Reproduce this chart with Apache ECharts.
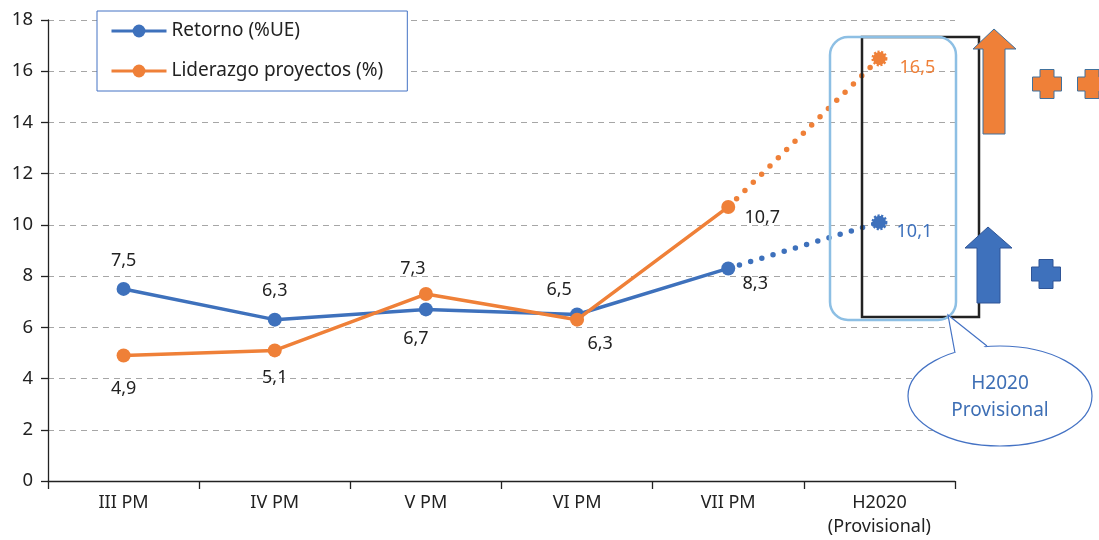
<!DOCTYPE html>
<html>
<head>
<meta charset="utf-8">
<script src="https://cdn.jsdelivr.net/npm/echarts@6/dist/echarts.min.js"></script>
<style>
  html, body { margin: 0; padding: 0; background: #fff; }
  #chart { width: 1099px; height: 540px; }
</style>
</head>
<body>
<div id="chart"></div>
<script>
// Programme categories and the two indicators (last point is provisional)
const categories = ['III PM', 'IV PM', 'V PM', 'VI PM', 'VII PM', 'H2020\n(Provisional)'];
const retorno = [7.5, 6.3, 6.7, 6.5, 8.3, 10.1];
const liderazgo = [4.9, 5.1, 7.3, 6.3, 10.7, 16.5];
const seriesNames = ['Retorno (%UE)', 'Liderazgo proyectos (%)'];
const provisionalIndex = 5;

const yMin = 0, yMax = 18, yStep = 2;

const BLUE = '#3e71bc';
const ORANGE = '#ef8038';
const FONT = '"Noto Sans", "Open Sans", sans-serif';

// label offsets (px from the marker centre)
const blueLabelOffsets = [[0, -28], [0, -29], [-10, 29], [-18, -25], [27, 15], [35, 10]];
const orangeLabelOffsets = [[0, 33], [0, 27], [-13, -25], [23, 24], [34, 11], [38, 9]];

const fmt = v => String(v).replace('.', ',');

function solidData(values, offsets) {
  return values.map((v, i) => {
    if (i >= provisionalIndex) return { value: null };
    return { value: v, label: { offset: offsets[i] } };
  });
}

function dottedData(values, offsets, color) {
  return values.map((v, i) => {
    if (i === provisionalIndex - 1) {
      return { value: v, symbol: 'none', label: { show: false } };
    }
    if (i === provisionalIndex) {
      return {
        value: v,
        symbol: 'circle',
        symbolSize: 13,
        itemStyle: { color: color, borderColor: color, borderWidth: 3, borderType: [2, 1.5] },
        label: { show: true, offset: offsets[i], color: color }
      };
    }
    return { value: null };
  });
}

const labelBase = {
  show: true,
  position: 'inside',
  color: '#222',
  fontFamily: FONT,
  fontSize: 18,
  textBorderWidth: 0,
  formatter: p => (p.value == null ? '' : fmt(p.value))
};

// cross ("plus") shape centred on (cx, cy)
function cross(cx, cy, half, arm) {
  return [
    [cx - arm, cy - half], [cx + arm, cy - half], [cx + arm, cy - arm],
    [cx + half, cy - arm], [cx + half, cy + arm], [cx + arm, cy + arm],
    [cx + arm, cy + half], [cx - arm, cy + half], [cx - arm, cy + arm],
    [cx - half, cy + arm], [cx - half, cy - arm], [cx - arm, cy - arm]
  ];
}

const chart = echarts.init(document.getElementById('chart'), null, { renderer: 'canvas' });

chart.setOption({
  animation: false,
  backgroundColor: '#fff',
  textStyle: { fontFamily: FONT },
  grid: { left: 48, right: 144, top: 20, bottom: 59, containLabel: false },
  legend: {
    data: seriesNames,
    orient: 'vertical',
    left: 97,
    top: 11,
    padding: [10, 24, 10, 13],
    itemGap: 20,
    itemWidth: 55,
    itemHeight: 16,
    backgroundColor: '#fff',
    borderColor: '#4472c4',
    borderWidth: 1,
    lineStyle: { width: 3 },
    textStyle: { fontFamily: FONT, fontSize: 19, color: '#222', lineHeight: 20 }
  },
  xAxis: {
    type: 'category',
    data: categories,
    boundaryGap: true,
    axisLine: { lineStyle: { color: '#222', width: 1.3 } },
    axisTick: { show: true, length: 8, lineStyle: { color: '#222', width: 1.3 } },
    axisLabel: { fontFamily: FONT, fontSize: 18, color: '#222', margin: 10, lineHeight: 24 }
  },
  yAxis: {
    type: 'value',
    min: yMin,
    max: yMax,
    interval: yStep,
    axisLine: { show: true, lineStyle: { color: '#222', width: 1.3 } },
    axisTick: { show: true, length: 7, lineStyle: { color: '#222', width: 1.3 } },
    axisLabel: { fontFamily: FONT, fontSize: 18.5, color: '#222', margin: 15 },
    splitLine: { show: true, lineStyle: { color: '#a6a6a6', width: 1, type: [6, 5] } }
  },
  series: [
    {
      name: seriesNames[0] + ' ',
      type: 'line',
      data: dottedData(retorno, blueLabelOffsets, BLUE),
      color: BLUE,
      lineStyle: { color: BLUE, width: 5.5, type: [0, 11.7], cap: 'round' },
      label: Object.assign({}, labelBase),
      z: 2
    },
    {
      name: seriesNames[1] + ' ',
      type: 'line',
      data: dottedData(liderazgo, orangeLabelOffsets, ORANGE),
      color: ORANGE,
      lineStyle: { color: ORANGE, width: 5.5, type: [0, 11.7], cap: 'round' },
      label: Object.assign({}, labelBase),
      z: 2
    },
    {
      name: seriesNames[0],
      type: 'line',
      data: solidData(retorno, blueLabelOffsets),
      color: BLUE,
      symbol: 'circle',
      symbolSize: 14,
      lineStyle: { color: BLUE, width: 3.5 },
      itemStyle: { color: BLUE },
      label: Object.assign({}, labelBase),
      z: 3
    },
    {
      name: seriesNames[1],
      type: 'line',
      data: solidData(liderazgo, orangeLabelOffsets),
      color: ORANGE,
      symbol: 'circle',
      symbolSize: 14,
      lineStyle: { color: ORANGE, width: 3.5 },
      itemStyle: { color: ORANGE },
      label: Object.assign({}, labelBase),
      z: 4
    }
  ],
  graphic: [
    // bracket around the provisional column
    { type: 'rect', z: 5, shape: { x: 862, y: 37, width: 117, height: 280 },
      style: { fill: 'none', stroke: '#222', lineWidth: 2.5 } },
    { type: 'rect', z: 6, shape: { x: 830, y: 37, width: 126, height: 283, r: 18 },
      style: { fill: 'none', stroke: '#8dbfe4', lineWidth: 2.5 } },
    // growth arrows
    { type: 'polygon', z: 6,
      shape: { points: [[983, 134], [983, 49], [973, 49], [994, 29], [1016, 49], [1005, 49], [1005, 134]] },
      style: { fill: ORANGE, stroke: '#41719c', lineWidth: 1 } },
    { type: 'polygon', z: 6,
      shape: { points: [[977, 303], [977, 248], [965, 248], [988, 227], [1012, 248], [1000, 248], [1000, 303]] },
      style: { fill: BLUE, stroke: '#2f5597', lineWidth: 1 } },
    // plus signs
    { type: 'polygon', z: 6, shape: { points: cross(1047, 84, 14.5, 7) },
      style: { fill: ORANGE, stroke: '#41719c', lineWidth: 1 } },
    { type: 'polygon', z: 6, shape: { points: cross(1092, 84, 14.5, 7) },
      style: { fill: ORANGE, stroke: '#41719c', lineWidth: 1 } },
    { type: 'polygon', z: 6, shape: { points: cross(1046, 274, 14.5, 7) },
      style: { fill: BLUE, stroke: '#2f5597', lineWidth: 1 } },
    // callout bubble
    { type: 'ellipse', z: 7, shape: { cx: 1000, cy: 396, rx: 92, ry: 50 },
      style: { fill: '#fff', stroke: '#4472c4', lineWidth: 1.2 } },
    { type: 'polygon', z: 8, shape: { points: [[955, 356], [948, 315], [988, 350]] },
      style: { fill: '#fff', stroke: 'none' } },
    { type: 'polyline', z: 9, shape: { points: [[955, 353], [948, 315], [987, 346]] },
      style: { fill: 'none', stroke: '#4472c4', lineWidth: 1.2 } },
    { type: 'text', z: 10,
      style: { text: 'H2020\nProvisional', x: 1000, y: 397, align: 'center', verticalAlign: 'middle',
               font: '19px ' + FONT, fill: '#3e6fb5', lineHeight: 27 } }
  ]
});
</script>
</body>
</html>
